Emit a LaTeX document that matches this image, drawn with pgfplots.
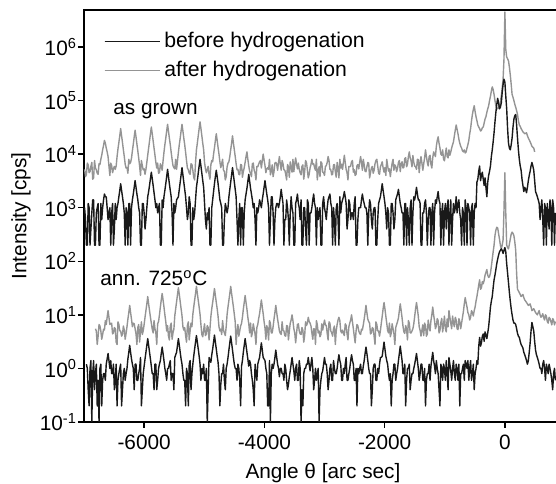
\documentclass[border=0pt]{standalone}
\usepackage{fontspec}
\setmainfont{Liberation Sans}
\usepackage{pgfplots}
\usepackage{pgfplotstable}
\pgfplotsset{compat=1.18}
\definecolor{lgray}{gray}{0.58}
\definecolor{dblack}{gray}{0.1}
\pgfplotstableread{
x A B C D
-6990 5200 1000 nan nan
-6975 3800 600 nan nan
-6960 4100 200 nan 1.2
-6945 6800 200 nan 1.0
-6930 6300 1200 nan 0.4
-6915 4500 1000 nan 0.2
-6900 4700 200 nan 1.0
-6885 5900 400 nan 1.4
-6870 7000 800 nan 0.1
-6855 3400 1400 nan 0.8
-6840 3600 1400 nan 1.4
-6825 7600 200 nan 0.4
-6810 5500 200 5.5 0.8
-6795 5100 800 5.0 1.2
-6780 4400 1000 2.8 0.2
-6765 4200 1200 4.0 0.6
-6750 6600 200 6.6 0.1
-6735 6400 200 6.2 1.0
-6720 8000 1200 5.0 1.2
-6705 9500 600 3.5 0.2
-6690 12000 1000 4.3 0.6
-6675 14500 1400 5.4 0.8
-6660 18000 1800 5.2 0.8
-6645 16000 1600 7.8 0.6
-6630 13000 1600 6.6 1.2
-6615 11000 1000 9 1.5
-6600 9000 600 12 1.9
-6585 6000 800 9 1.4
-6570 4000 1000 6.6 1.0
-6555 6800 200 6.8 1.4
-6540 6100 800 7.0 0.8
-6525 4500 1200 4.4 0.8
-6510 5300 200 4.6 1.2
-6495 5900 400 5.8 0.4
-6480 5200 1200 5.5 0.6
-6465 6000 600 3.1 1.2
-6450 9000 1000 2.8 0.2
-6435 12500 1200 7.4 0.6
-6420 16500 1600 6.6 0.8
-6405 22000 2100 5.0 1.0
-6390 30000 2800 5.0 1.2
-6375 22000 2100 4.0 0.2
-6360 16500 1600 4.3 0.4
-6345 12000 1200 6.2 0.8
-6330 9000 800 5.2 1.0
-6315 6500 200 3.5 0.6
-6300 5500 1000 4.5 0.8
-6285 5600 800 6.0 1.0
-6270 4400 200 8.3 1.5
-6255 8000 1200 11 2.0
-6240 6600 1200 15 2.7
-6225 7000 200 11 2.0
-6210 8400 1000 8.3 1.5
-6195 11500 1400 6.0 1.2
-6180 15400 1800 7.0 1.0
-6165 21000 2400 6.8 0.4
-6150 28000 3200 5.5 1.2
-6135 21000 2400 4.4 1.2
-6120 15400 1800 2.8 0.6
-6105 11500 1400 5.8 0.6
-6090 8400 1000 6.6 0.8
-6075 6000 800 3.1 1.0
-6060 4000 200 5.0 1.6
-6045 7600 200 7.4 0.2
-6030 6100 1200 4.3 0.4
-6015 5100 1200 5.0 0.8
-6000 5300 800 6.6 1.1
-5985 4200 400 9 1.5
-5970 5200 600 12 2.0
-5955 7000 1000 16 2.7
-5940 9600 1600 22 3.6
-5925 13000 2000 16 2.7
-5910 17600 2600 12 2.0
-5895 24000 3500 9 1.5
-5880 32000 4600 7.0 1.1
-5865 24000 3500 5.4 0.8
-5850 17600 2600 4.6 0.8
-5835 13000 1900 7.8 0.4
-5820 9600 1400 5.5 1.2
-5805 7000 1000 4.6 1.2
-5790 5500 1200 2.8 0.4
-5775 6800 800 6.8 0.6
-5760 4400 1000 7.5 1.0
-5745 4500 1200 10 1.2
-5730 6600 200 14 1.4
-5715 5900 200 19 1.9
-5700 5000 1400 25 2.5
-5685 7500 1000 19 1.9
-5670 10800 1600 14 1.4
-5655 15000 2100 10 1.0
-5640 19800 2800 7.5 0.8
-5625 27000 3800 5.0 0.6
-5610 36000 5200 6.3 1.0
-5595 27000 3800 4.0 1.0
-5580 19800 2800 3.4 1.2
-5565 15000 2100 6.2 1.4
-5550 10800 1600 7.0 0.6
-5535 8000 800 3.5 0.8
-5520 6100 200 4.6 0.8
-5505 5600 1200 5.4 0.4
-5490 5300 800 9.6 1.6
-5475 8000 1000 13 1.8
-5460 5200 1400 17.6 2.0
-5445 7500 1500 24 2.7
-5430 10800 1600 32 3.6
-5415 15000 2200 24 2.7
-5400 19800 3000 17.6 2.0
-5385 27000 4100 13 1.5
-5370 36000 5600 9.6 1.2
-5355 27000 4100 6.0 0.8
-5340 19800 3000 5.2 0.6
-5325 15000 2200 5.8 0.6
-5310 10800 1600 4.1 0.2
-5295 7600 1000 3.1 1.0
-5280 5500 600 6.3 0.8
-5265 5100 800 7.4 0.2
-5250 4400 1600 3.4 1.2
-5235 4200 1200 5.0 1.4
-5220 6600 200 7.0 0.4
-5205 6400 200 6 0.8
-5190 5000 1000 10.2 1.2
-5175 3700 600 14 1.7
-5160 3300 800 18.7 2.3
-5145 7000 1400 25 3.1
-5130 12000 2400 34 4.1
-5115 16000 3200 25 3.1
-5100 22000 4400 18.7 2.3
-5085 30000 6000 14 1.7
-5070 40000 8000 10.2 1.2
-5055 30000 6000 6.5 0.6
-5040 22000 4400 4.3 1.0
-5025 16000 3200 3.9 0.8
-5010 12000 2400 5.2 1.2
-4995 7000 1200 6.8 0.6
-4980 5300 600 4.1 0.6
-4965 4500 400 4.4 1.0
-4950 5200 800 6.3 0.1
-4935 5900 600 5.8 0.4
-4920 4100 1000 3.4 1.6
-4905 3400 200 5.5 1.4
-4890 6300 200 9.3 1.3
-4875 7600 1000 13 1.8
-4860 7200 1400 17 2.3
-4845 10000 2000 23 3.1
-4830 13200 2800 31 4.2
-4815 18000 3800 23 3.1
-4800 24000 5000 17 2.3
-4785 18000 3800 13 1.7
-4770 13200 2800 9.3 1.3
-4755 10000 2000 6.0 0.8
-4740 7200 1400 5.0 0.2
-4725 5600 1200 5.4 0.5
-4710 6600 1000 4.3 0.8
-4695 8000 200 7.8 0.8
-4680 5000 200 5.2 1.2
-4665 4800 600 4.6 0.6
-4650 3300 1200 4.1 0.4
-4635 3800 1000 6 1.0
-4620 5800 800 10.2 1.2
-4605 6800 1000 14 1.6
-4590 7200 1600 18.7 2.2
-4575 9000 2200 25 3.0
-4560 12100 3000 34 4.0
-4545 16000 4100 25 3.0
-4530 22000 5600 18.7 2.2
-4515 16000 4100 14 1.6
-4500 12100 3000 10.2 1.2
-4485 9000 2200 7.4 1.0
-4470 6600 1600 2.8 1.0
-4455 5100 600 5.0 0.6
-4440 5200 200 6.6 1.2
-4425 4200 600 4.0 1.0
-4410 4100 1200 5.0 0.6
-4395 6400 200 6.2 0.2
-4380 6300 1000 6.9 1.1
-4365 3700 1000 9 1.4
-4350 4700 200 12.7 2.0
-4335 5600 800 17 2.7
-4320 7000 1400 23 3.6
-4305 9000 1800 17 2.7
-4290 11000 2300 12.7 2.0
-4275 8000 3100 9 1.5
-4260 6050 4200 6.9 1.1
-4245 4800 3100 4.6 1.4
-4230 4400 2300 7.0 1.2
-4215 3800 1800 3.9 0.8
-4200 6600 1400 4.6 0.6
-4185 6800 1000 6.8 0.4
-4170 5000 1200 5.5 0.2
-4155 4500 600 4.4 1.2
-4140 3300 200 2.8 0.8
-4125 5900 1000 5.8 0.6
-4110 5800 800 6.6 1.2
-4095 6500 1000 8.5 1.4
-4080 7200 1400 10.5 1.6
-4065 7600 1200 14 2.2
-4050 5500 1000 19 3.0
-4035 7500 1400 14 2.2
-4020 10000 1800 10.5 1.6
-4005 7800 2400 7.5 1.5
-3990 6100 3200 5.7 1.4
-3975 4500 2400 3.5 1.0
-3960 5300 1800 6.3 0.8
-3945 5600 1400 5.4 0.2
-3930 5200 1000 3.4 0.2
-3915 8000 200 7.8 1.4
-3900 4100 600 7.0 0.1
-3885 4800 1600 4.6 0.8
-3870 6300 1600 4.6 1.2
-3855 3800 800 6 1.0
-3840 4700 200 8.3 1.2
-3825 6800 600 11 1.6
-3810 7000 1000 15 2.2
-3795 6500 1200 11 1.6
-3780 5000 1200 8.3 1.2
-3765 7000 1000 6.5 1.0
-3750 9000 1200 5.0 0.7
-3735 6500 1600 4.5 1.0
-3720 5000 2200 4.3 1.0
-3705 7600 1600 7.4 0.8
-3690 6600 1200 5.2 0.8
-3675 5100 200 5.0 0.6
-3660 5000 600 4.1 1.2
-3645 4200 600 4.0 1.0
-3630 3300 1400 6.3 0.6
-3615 6400 1000 6.2 0.4
-3600 5800 600 3.4 0.5
-3585 3700 200 5 0.7
-3570 7200 800 7.0 0.9
-3555 5600 1600 8 1.2
-3540 4600 1000 10 1.6
-3525 8000 800 7.8 1.2
-3510 4700 200 5.5 0.9
-3495 6500 200 4.6 0.6
-3480 8500 1200 3.0 1.0
-3465 6500 1400 4.5 1.2
-3450 5300 1800 6.6 0.6
-3435 6800 1200 6.8 0.6
-3420 5200 1000 5.0 1.4
-3405 4500 600 4.4 1.0
-3390 4100 1400 4.3 0.1
-3375 5900 200 5.8 0.4
-3360 6300 200 5.2 0.2
-3345 3400 1000 3.1 0.8
-3330 4700 1000 4.1 1.0
-3315 7600 400 7.4 1.0
-3300 7000 200 6.3 1.2
-3285 5100 1400 7.0 1.2
-3270 3600 1200 9 1.6
-3255 4200 200 7.5 1.2
-3240 5500 800 7.0 0.9
-3225 6400 800 6.2 1.2
-3210 8000 1000 4.6 1.6
-3195 6500 1400 3.5 1.0
-3180 6600 1800 5.5 0.4
-3165 5600 1200 5.4 0.6
-3150 5000 1000 2.8 1.0
-3135 8000 200 7.8 0.6
-3120 3300 1000 6.6 0.8
-3105 4800 600 4.6 1.0
-3090 5800 800 5.0 0.1
-3075 3800 1000 3.9 0.4
-3060 7200 200 4.3 0.6
-3045 6800 200 6.8 0.8
-3030 4600 1200 5.2 0.9
-3015 4500 1600 6.5 1.2
-3000 4000 1000 8 1.6
-2985 5900 800 6.5 1.2
-2970 6100 600 6.3 1.2
-2955 7000 1000 4.5 0.8
-2940 9000 1400 3.4 0.4
-2925 7600 1600 7.4 0.6
-2910 5200 1800 7.0 1.0
-2895 5100 1200 5.0 1.2
-2880 4100 1000 4.6 0.6
-2865 4200 200 4.0 0.6
-2850 6300 1000 5.5 1.4
-2835 6400 600 6.2 1.0
-2820 4700 200 2.8 0.8
-2805 3700 1000 5 0.8
-2790 7000 1200 6.6 1.0
-2775 5600 600 8 1.4
-2760 3600 200 9 1.8
-2745 8000 1600 7.8 1.4
-2730 5500 800 5.0 1.2
-2715 6500 1200 4.6 0.6
-2700 5200 1400 5.2 0.6
-2685 7000 1600 4.5 1.0
-2670 9500 2000 4.1 0.8
-2655 7000 1600 6.8 1.2
-2640 5200 1200 6.3 1.6
-2625 4500 400 4.4 0.6
-2610 3300 600 3.4 0.6
-2595 5900 1400 6 0.8
-2580 5800 1200 7.0 1.0
-2565 6000 600 8 1.4
-2550 7200 800 10 1.8
-2535 7600 800 7.4 1.4
-2520 4600 600 5.5 1.2
-2505 5100 1200 4.0 0.6
-2490 4000 1600 3.0 0.6
-2475 4200 200 5 1.0
-2460 6100 200 6.6 0.2
-2445 6400 600 6.2 1.0
-2430 5300 1000 5.0 0.8
-2415 7000 1000 4.5 1.0
-2400 9000 1000 4.3 1.2
-2385 7000 1400 5.4 0.8
-2370 5000 1800 5.2 0.8
-2355 8000 1400 6.5 1.1
-2340 6300 1200 8.3 1.4
-2325 4800 1000 11 1.9
-2310 4700 1000 15 2.5
-2295 5800 800 11 1.9
-2280 7000 200 8.3 1.4
-2265 6800 800 7.5 1.0
-2250 3600 1400 7.0 0.8
-2235 4500 1200 4.4 0.8
-2220 5500 600 4.6 0.2
-2205 5900 400 5.8 0.4
-2190 4400 800 5.5 1.0
-2175 5000 1000 4.0 1.2
-2160 6600 1000 2.8 1.2
-2145 7600 200 7.4 0.6
-2130 8000 200 6.6 0.6
-2115 6000 600 5.0 1.0
-2100 4400 1200 5.0 0.8
-2085 4200 1400 4.0 1.2
-2070 5800 1600 5.1 1.6
-2055 6400 2100 7.0 1.6
-2040 7200 2800 9.4 1.7
-2025 5500 2100 13 2.3
-2010 4600 1600 17 3.1
-1995 5600 1200 13 2.3
-1980 4000 800 9.4 1.7
-1965 8000 400 7.0 1.4
-1950 6100 1000 5.1 1.2
-1935 4800 800 4.6 0.8
-1920 5300 200 7.0 0.6
-1905 3800 200 3.9 0.8
-1890 5200 1200 4.6 0.2
-1875 6800 1200 6.8 0.6
-1860 8000 800 5.5 0.8
-1845 5000 400 4.4 1.2
-1830 6300 600 2.8 1.2
-1815 5900 1400 5.8 0.6
-1800 4700 1600 6.6 0.8
-1785 5500 1800 7.5 1.0
-1770 7000 2200 8.8 1.4
-1755 7600 1600 12 1.9
-1740 4700 1200 16 2.6
-1725 6600 1000 12 1.9
-1710 7200 800 8.8 1.4
-1695 5500 800 6.2 0.8
-1680 5700 200 4.8 0.8
-1665 8300 1200 4.5 1.2
-1650 8600 1200 6.3 0.2
-1635 5800 200 5.4 0.6
-1620 6500 1000 3.4 1.0
-1605 9000 600 7.8 1.0
-1590 11000 200 7.0 1.2
-1575 8500 1000 4.6 0.4
-1560 7500 1400 4.6 0.6
-1545 5800 200 5 0.8
-1530 9400 800 5.5 0.8
-1515 7000 1600 6.8 1.0
-1500 6000 1400 9.4 1.2
-1485 5800 1800 13 1.5
-1470 5200 2400 17 1.9
-1455 8000 1800 13 1.4
-1440 7900 1400 9.4 1.0
-1425 4500 1400 6.0 0.6
-1410 6900 1200 5.1 0.8
-1395 9000 200 4.0 1.2
-1380 6800 200 5.2 1.2
-1365 5000 800 6.5 0.6
-1350 6600 800 4.1 0.6
-1335 8500 1200 7.0 1.0
-1320 12000 1400 6.3 0.2
-1305 9000 800 4.0 0.6
-1290 7000 200 4.4 0.8
-1275 6000 600 8.0 0.8
-1260 9000 1000 6.0 1.2
-1245 9500 1000 5.0 0.6
-1230 6500 200 7.7 1.1
-1215 5500 800 10 1.5
-1200 8500 1200 14 2.0
-1185 11000 200 10 1.4
-1170 10000 800 7.7 1.1
-1155 9000 1400 5.5 0.8
-1140 14000 1200 6.2 1.4
-1125 18000 1600 8.5 1.0
-1110 21000 2000 7.8 0.8
-1095 16000 1400 4.6 0.4
-1080 13000 1200 5.1 0.2
-1065 10000 200 7.2 1.2
-1050 9500 800 8.6 1.0
-1035 12000 1200 4.8 0.6
-1020 8000 200 6.5 1.2
-1005 7500 800 9.5 1.0
-990 10000 1200 5.6 0.6
-975 13000 400 4.8 1.4
-960 9000 1000 8.4 0.9
-945 8500 1400 6.0 0.4
-930 12000 200 12 1.6
-915 9500 800 9.0 1.2
-900 11000 1400 7.0 0.9
-885 13000 200 5.5 0.6
-870 15000 600 9.5 1.0
-855 17000 1200 7.0 1.4
-840 22000 800 6.0 0.8
-825 28000 1000 9.0 0.6
-810 35000 1600 8.0 1.2
-795 29000 800 5.5 1.0
-780 24000 1200 5.3 0.6
-765 19000 1400 8.5 1.2
-750 16000 800 7.5 0.2
-735 14000 600 5.5 0.8
-720 13000 200 7.0 0.8
-705 11500 1000 9.0 1.0
-690 11000 800 11.5 1.2
-675 12000 200 16 0.6
-660 10500 1400 21 1.4
-645 11000 1000 17 1.2
-630 13000 200 14 1.0
-615 15000 1200 11 1.4
-600 18000 1000 10 0.6
-585 24000 800 8 1.0
-570 30000 200 9 1.4
-555 42000 1000 12 0.6
-540 55000 1200 11 0.8
-525 68000 200 9.5 1.2
-510 80000 800 12 0.4
-495 62000 1200 14 0.8
-480 50000 1000 18 1.0
-465 42000 3000 22 1.4
-450 35000 3400 28 1.2
-435 32000 4800 36 2.6
-420 30000 6000 45 3.8
-405 27000 3200 30 2.6
-390 28000 4000 32 3.0
-375 31000 4600 42 4.0
-360 32000 3400 38 4.4
-345 38000 2600 44 3.2
-330 45000 3600 55 4.8
-315 50000 2400 62 4.2
-300 60000 1600 70 3.6
-285 70000 3000 55 4.6
-270 80000 4000 50 6
-255 100000 4800 52 9
-240 120000 6000 60 14
-225 150000 9000 80 18
-210 180000 12000 110 22
-195 160000 17000 150 32
-180 130000 25000 200 45
-165 100000 40000 300 55
-150 80000 60000 380 70
-135 72000 85000 430 90
-120 70000 110000 420 110
-105 74000 90000 330 130
-90 80000 70000 260 150
-75 95000 75000 200 160
-60 120000 90000 170 170
-45 170000 140000 200 160
-30 250000 200000 250 140
-15 600000 250000 900 160
0 4500000 220000 4500 180
15 900000 120000 800 150
30 650000 70000 200 90
45 600000 30000 180 60
60 550000 16000 170 40
75 420000 13000 210 26
90 300000 12000 260 18
105 200000 15000 320 13
120 130000 20000 350 10
135 115000 32000 330 8
150 100000 45000 300 7
165 85000 52000 230 7
180 75000 55000 160 6.6
195 65000 35000 60 5.5
210 55000 20000 30 4.5
225 42000 12000 28 4.0
240 35000 8000 26 3.8
255 33000 6000 24 3.2
270 30000 5000 22 2.8
285 28000 3400 23 2.6
300 26000 2600 24 2.4
315 25000 2000 21 2.0
330 24000 2400 19 1.8
345 24500 2200 18 1.6
360 25000 1900 17 1.4
375 22000 2400 16 1.2
390 20000 3200 15 1.4
405 18500 4000 15.5 2.0
420 17000 4800 16 3.0
435 15500 6000 14 5.0
450 14000 7000 12 7.2
465 13500 6000 12.5 6.0
480 13000 5000 13 5.0
495 11000 3200 12 3.2
510 nan 2000 11 2.2
525 nan 1800 10.5 1.8
540 nan 1600 10 1.6
555 nan 1400 11 1.4
570 nan 1200 12 1.2
585 nan 600 10 1.0
600 nan 1000 9 1.0
615 nan 1400 9.5 0.8
630 nan 600 10.5 1.2
645 nan 200 9 1.4
660 nan 1200 8 1.0
675 nan 1000 10 0.6
690 nan 200 9.5 1.2
705 nan 1200 7.5 1.0
720 nan 800 7 0.8
735 nan 400 9 1.2
750 nan 1400 8.5 1.0
765 nan 1000 7.5 0.8
780 nan 200 6.5 0.6
795 nan 1400 8.5 0.4
810 nan 1000 8 0.8
825 nan 200 6.5 1.0
840 nan 800 7.5 0.6
}\data

\begin{document}
\begin{tikzpicture}
\begin{axis}[
  scale only axis, width=236.6pt, height=206pt,
  xmin=-7000, xmax=870,
  ymode=log, ymin=0.1, ymax=4.9e6,
  xtick={-6000,-4000,-2000,0},
  xticklabels={-6000,-4000,-2000,0},
  ytick={0.1,1,10,100,1000,10000,100000,1000000},
  yticklabels={10\textsuperscript{-1},10\textsuperscript{0},10\textsuperscript{1},10\textsuperscript{2},10\textsuperscript{3},10\textsuperscript{4},10\textsuperscript{5},10\textsuperscript{6}},
  yminorticks=false,
  tick pos=left, tick align=outside,
  major tick length=3pt,
  tick style={line width=0.7pt, black},
  axis line style={line width=0.9pt},
  unbounded coords=jump,
  font=\fontsize{10.4}{12.5}\selectfont,
  ticklabel style={font=\fontsize{10.4}{12.5}\selectfont},
  yticklabel style={xshift=3pt},
  xlabel={Angle θ [arc sec]},
  ylabel={Intensity [cps]},
  xlabel style={at={(rel axis cs:0.505,-0.1238)}, anchor=center},
  ylabel style={at={(rel axis cs:-0.1331,0.5)}, anchor=center},
  legend style={at={(rel axis cs:0.029,0.967)}, anchor=north west, draw=none, fill=none,
    font=\fontsize{10.6}{12.7}\selectfont, row sep=1.5pt},
  legend cell align=left,
  legend image code/.code={\draw[#1] (0pt,0pt) -- (24pt,0pt); \path (0pt,0pt) -- (27.5pt,0pt);},
  every axis plot/.append style={line join=round},
]
\addplot[lgray, line width=0.7pt, forget plot] table[x=x, y=A] {\data};
\addplot[lgray, line width=0.7pt, forget plot] table[x=x, y=C] {\data};
\addplot[dblack, line width=0.7pt, forget plot] table[x=x, y=B] {\data};
\addplot[dblack, line width=0.7pt, forget plot] table[x=x, y=D] {\data};
\addlegendimage{dblack, line width=0.6pt}
\addlegendentry{before hydrogenation}
\addlegendimage{lgray, line width=0.6pt}
\addlegendentry{after hydrogenation}
\node[anchor=west, inner sep=0pt] at (rel axis cs:0.0613,0.755) {as grown};
\node[anchor=west, inner sep=0pt] at (rel axis cs:0.0338,0.3495) {ann. 725\textsuperscript{o}C};
\coordinate (bbtr) at (rel axis cs:0.99746,1);
\end{axis}
\pgfresetboundingbox
\path[use as bounding box] ([xshift=-42pt,yshift=-31pt]current axis.south west) rectangle ([yshift=5pt]bbtr);
\end{tikzpicture}
\end{document}
